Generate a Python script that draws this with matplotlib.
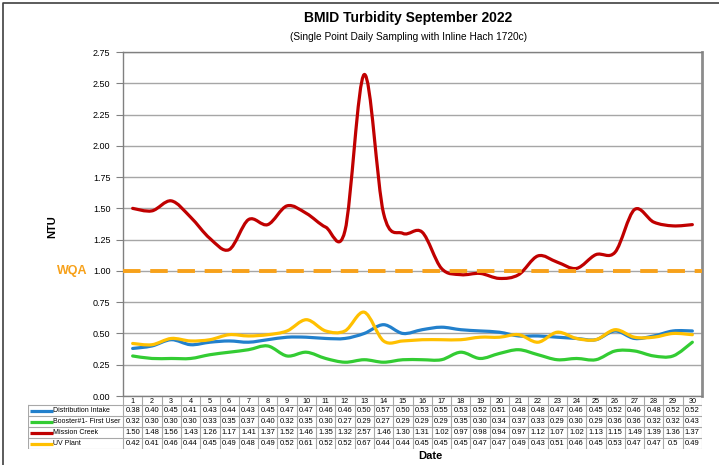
import numpy as np
import matplotlib.pyplot as plt
from matplotlib.path import Path
from matplotlib.patches import PathPatch
from matplotlib.lines import Line2D

plt.rcParams['font.family'] = ['Liberation Sans', 'DejaVu Sans']

# Data
days = list(range(1, 31))
distribution_intake = [0.38, 0.40, 0.45, 0.41, 0.43, 0.44, 0.43, 0.45, 0.47, 0.47,
                       0.46, 0.46, 0.50, 0.57, 0.50, 0.53, 0.55, 0.53, 0.52, 0.51,
                       0.48, 0.48, 0.47, 0.46, 0.45, 0.52, 0.46, 0.48, 0.52, 0.52]
booster_first_user = [0.32, 0.30, 0.30, 0.30, 0.33, 0.35, 0.37, 0.40, 0.32, 0.35,
                      0.30, 0.27, 0.29, 0.27, 0.29, 0.29, 0.29, 0.35, 0.30, 0.34,
                      0.37, 0.33, 0.29, 0.30, 0.29, 0.36, 0.36, 0.32, 0.32, 0.43]
mission_creek = [1.50, 1.48, 1.56, 1.43, 1.26, 1.17, 1.41, 1.37, 1.52, 1.46,
                 1.35, 1.32, 2.57, 1.46, 1.30, 1.31, 1.02, 0.97, 0.98, 0.94,
                 0.97, 1.12, 1.07, 1.02, 1.13, 1.15, 1.49, 1.39, 1.36, 1.37]
uv_plant = [0.42, 0.41, 0.46, 0.44, 0.45, 0.49, 0.48, 0.49, 0.52, 0.61,
            0.52, 0.52, 0.67, 0.44, 0.44, 0.45, 0.45, 0.45, 0.47, 0.47,
            0.49, 0.43, 0.51, 0.46, 0.45, 0.53, 0.47, 0.47, 0.5, 0.49]
# text shown in the table (keeps "0.5" as printed)
uv_plant_text = ['0.42', '0.41', '0.46', '0.44', '0.45', '0.49', '0.48', '0.49', '0.52', '0.61',
                 '0.52', '0.52', '0.67', '0.44', '0.44', '0.45', '0.45', '0.45', '0.47', '0.47',
                 '0.49', '0.43', '0.51', '0.46', '0.45', '0.53', '0.47', '0.47', '0.5', '0.49']
series_names = ['Distribution Intake', 'Booster#1- First User', 'Mission Creek', 'UV Plant']
series_colors = ['#2280cc', '#33cc33', '#c00000', '#ffc000']
wqa_level = 1.0

series = [distribution_intake, booster_first_user, mission_creek, uv_plant]

W, H = 719, 465
fig = plt.figure(figsize=(W / 100, H / 100), dpi=100)

def fx(px):
    return px / W

def fy(py):
    return 1 - py / H

ax_l, ax_r, ax_t, ax_b = 123, 702, 52, 396
ax = fig.add_axes([fx(ax_l), fy(ax_b), fx(ax_r - ax_l), (ax_b - ax_t) / H])


def smooth_path(x, y):
    # Bezier segments through every point (Excel-style smoothed line)
    pts = np.column_stack([x, y]).astype(float)
    n = len(pts)
    verts = [pts[0]]
    codes = [Path.MOVETO]
    for i in range(n - 1):
        p0 = pts[i - 1] if i > 0 else pts[i]
        p1 = pts[i]
        p2 = pts[i + 1]
        p3 = pts[i + 2] if i + 2 < n else pts[i + 1]
        c1 = p1 + (p2 - p0) / 6
        c2 = p2 - (p3 - p1) / 6
        verts += [c1, c2, p2]
        codes += [Path.CURVE4] * 3
    return Path(verts, codes)


for vals, col in zip(series, series_colors):
    ax.add_patch(PathPatch(smooth_path(days, vals), fill=False, edgecolor=col,
                           linewidth=2.3, capstyle='round', joinstyle='round', zorder=3))

ax.axhline(wqa_level, color='#f7a11a', linewidth=2.8, linestyle=(0, (4.5, 2.5)), zorder=4)

ax.set_xlim(0.5, 30.5)
ax.set_ylim(0, 2.75)
ax.set_yticks(np.arange(0, 2.76, 0.25))
ax.set_yticklabels([f'{v:.2f}' for v in np.arange(0, 2.76, 0.25)], fontsize=6.5)
ax.set_xticks([])
ax.tick_params(axis='y', length=5, width=0.8, color='#808080', pad=4)
ax.yaxis.grid(True, color='#a6a6a6', linewidth=1)
ax.set_axisbelow(True)
for s in ['left', 'bottom', 'top']:
    ax.spines[s].set_color('#808080')
    ax.spines[s].set_linewidth(1)
ax.spines['right'].set_color('#8c8c8c')
ax.spines['right'].set_linewidth(2)

fig.text(fx(52), fy(227), 'NTU', rotation=90, fontsize=8, fontweight='bold',
         ha='center', va='center')
fig.text(fx(72), fy(271), 'WQA', fontsize=9, fontweight='bold', color='#f7a11a',
         ha='center', va='center')

fig.text(fx(408), fy(18), 'BMID Turbidity September 2022', fontsize=10,
         fontweight='bold', ha='center', va='center')
fig.text(fx(408), fy(37), '(Single Point Daily Sampling with Inline Hach 1720c)',
         fontsize=7.3, ha='center', va='center')
fig.text(fx(430), fy(456), 'Date', fontsize=8, fontweight='bold',
         ha='center', va='center')

# Data table under the plot
tab_l, tab_t, tab_b = 28, 397, 449
colw = (ax_r - ax_l) / 30
lab_w = (ax_l - tab_l) / colw
tab = fig.add_axes([fx(tab_l), fy(tab_b), fx(ax_r - tab_l), (tab_b - tab_t) / H])
tab.set_xlim(0.5 - lab_w, 30.5)
tab.set_ylim(52, 0)
tab.axis('off')
grid_c = '#a8a8a8'
head_h, row_h = 8, 11
for d in days:
    tab.text(d, head_h / 2 + 0.5, str(d), fontsize=5.2, ha='center', va='center')
for k in range(31):
    tab.plot([0.5 + k, 0.5 + k], [0, 52], color=grid_c, lw=0.8)
tab.plot([0.5 - lab_w, 0.5 - lab_w], [head_h, 52], color=grid_c, lw=0.8)
for r in range(5):
    y = head_h + r * row_h
    tab.plot([0.5 - lab_w, 30.5], [y, y], color=grid_c, lw=0.8)

table_texts = [[f'{v:.2f}' for v in distribution_intake],
               [f'{v:.2f}' for v in booster_first_user],
               [f'{v:.2f}' for v in mission_creek],
               uv_plant_text]
for r, (name, col, txts) in enumerate(zip(series_names, series_colors, table_texts)):
    yc = head_h + r * row_h + row_h / 2
    x0 = 0.5 - lab_w
    tab.plot([x0 + 0.1, x0 + 1.3], [yc, yc], color=col, lw=2.3, solid_capstyle='butt')
    tab.text(x0 + 1.3, yc, name, fontsize=5.0, ha='left', va='center')
    for d, t in zip(days, txts):
        tab.text(d, yc, t, fontsize=5.5, ha='center', va='center')

# outer frame (left and top edges visible)
fig.lines.append(Line2D([fx(3), fx(3), 1.0], [0.0, fy(3), fy(3)], transform=fig.transFigure,
                        color='#404040', linewidth=1.2))

fig.savefig('out.png', dpi=100)
